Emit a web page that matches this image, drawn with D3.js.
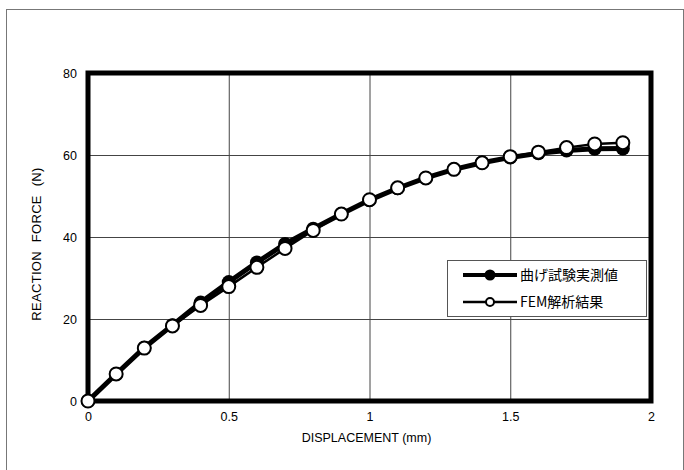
<!DOCTYPE html>
<html>
<head>
<meta charset="utf-8">
<script src="https://cdn.jsdelivr.net/npm/d3@7"></script>
<style>
  body { margin: 0; background: #fff; }
  svg { display: block; font-family: "Liberation Sans", Arial, "Noto Sans CJK JP", sans-serif; }
</style>
</head>
<body>
<svg id="chart" width="684" height="470"></svg>
<script>
// displacement (mm)
const disp = [0, 0.1, 0.2, 0.3, 0.4, 0.5, 0.6, 0.7, 0.8, 0.9, 1.0, 1.1, 1.2, 1.3, 1.4, 1.5, 1.6, 1.7, 1.8, 1.9];
// 曲げ試験実測値
const measured = [0, 6.6, 13.0, 18.5, 24.0, 29.0, 33.8, 38.3, 42.0, 45.6, 49.0, 51.9, 54.4, 56.5, 58.1, 59.4, 60.4, 61.1, 61.5, 61.6];
// FEM解析結果
const fem = [0, 6.6, 12.9, 18.3, 23.3, 27.9, 32.6, 37.2, 41.6, 45.6, 49.1, 52.0, 54.4, 56.5, 58.1, 59.6, 60.7, 61.8, 62.7, 63.0];

const xTicks = [0, 0.5, 1, 1.5, 2];
const yTicks = [0, 20, 40, 60, 80];
const seriesNames = ["曲げ試験実測値", "FEM解析結果"];

const svg = d3.select("#chart");

const margin = {top: 73, right: 33, bottom: 69, left: 88},
    width = 684 - margin.left - margin.right,
    height = 470 - margin.top - margin.bottom;

const x = d3.scaleLinear().domain([0, 2]).range([0, width]);
const y = d3.scaleLinear().domain([0, 80]).range([height, 0]);

// outer frame
svg.append("rect")
    .attr("x", 6.5).attr("y", 9.5)
    .attr("width", 677).attr("height", 470)
    .attr("fill", "none").attr("stroke", "#777").attr("stroke-width", 1);

const g = svg.append("g")
    .attr("transform", "translate(" + margin.left + "," + margin.top + ")");

// grid
g.selectAll(".vgrid")
    .data(xTicks.slice(1, -1))
    .enter().append("line")
    .attr("x1", d => x(d) + 0.5).attr("x2", d => x(d) + 0.5)
    .attr("y1", 0).attr("y2", height)
    .attr("stroke", "#444").attr("stroke-width", 1);
g.selectAll(".hgrid")
    .data(yTicks.slice(1, -1))
    .enter().append("line")
    .attr("x1", 0).attr("x2", width)
    .attr("y1", d => y(d) + 0.5).attr("y2", d => y(d) + 0.5)
    .attr("stroke", "#444").attr("stroke-width", 1);

// axes (labels only)
const xAxis = d3.axisBottom(x).tickValues(xTicks).tickSize(0).tickPadding(11).tickFormat(d3.format("~g"));
const yAxis = d3.axisLeft(y).tickValues(yTicks).tickSize(0).tickPadding(11).tickFormat(d3.format("d"));

g.append("g")
    .attr("transform", "translate(0," + height + ")")
    .call(xAxis)
    .call(a => a.select(".domain").remove())
    .selectAll("text").style("font-size", "12.5px").attr("fill", "#000");

g.append("g")
    .call(yAxis)
    .call(a => a.select(".domain").remove())
    .selectAll("text").style("font-size", "12.5px").attr("fill", "#000");

// plot frame
g.append("rect")
    .attr("x", 0).attr("y", 0)
    .attr("width", width).attr("height", height)
    .attr("fill", "none").attr("stroke", "#000").attr("stroke-width", 5);

// axis titles
svg.append("text")
    .attr("x", margin.left + width / 2 - 3).attr("y", 442)
    .attr("text-anchor", "middle")
    .style("font-size", "12.5px")
    .text("DISPLACEMENT (mm)");

svg.append("text")
    .attr("transform", "translate(41," + (margin.top + height / 2 + 7) + ") rotate(-90)")
    .attr("text-anchor", "middle")
    .style("font-size", "13px")
    .style("word-spacing", "5px")
    .style("letter-spacing", "0.3px")
    .text("REACTION FORCE (N)");

// series
const lineM = d3.line().x((d, i) => x(disp[i])).y(d => y(d));

g.append("path")
    .datum(measured)
    .attr("d", lineM)
    .attr("fill", "none").attr("stroke", "#000").attr("stroke-width", 5);

g.selectAll(".dotM")
    .data(measured)
    .enter().append("circle")
    .attr("cx", (d, i) => x(disp[i]))
    .attr("cy", d => y(d))
    .attr("r", 7)
    .attr("fill", "#000");

g.append("path")
    .datum(fem)
    .attr("d", lineM)
    .attr("fill", "none").attr("stroke", "#000").attr("stroke-width", 2.5);

g.selectAll(".dotF")
    .data(fem)
    .enter().append("circle")
    .attr("cx", (d, i) => x(disp[i]))
    .attr("cy", d => y(d))
    .attr("r", 6.5)
    .attr("fill", "#fff").attr("stroke", "#000").attr("stroke-width", 2);

// legend
const legend = svg.append("g").attr("transform", "translate(447,260)");
legend.append("rect")
    .attr("x", 0.5).attr("y", 0.5)
    .attr("width", 199).attr("height", 56)
    .attr("fill", "#fff").attr("stroke", "#555").attr("stroke-width", 1);

const legendRows = legend.selectAll(".row")
    .data(seriesNames)
    .enter().append("g")
    .attr("transform", (d, i) => "translate(0," + (15 + i * 27) + ")");

legendRows.append("line")
    .attr("x1", 16).attr("x2", 70)
    .attr("y1", 0).attr("y2", 0)
    .attr("stroke", "#000")
    .attr("stroke-width", (d, i) => i === 0 ? 4 : 2.5);

legendRows.append("circle")
    .attr("cx", 43).attr("cy", 0)
    .attr("r", (d, i) => i === 0 ? 4.5 : 4)
    .attr("fill", (d, i) => i === 0 ? "#000" : "#fff")
    .attr("stroke", "#000").attr("stroke-width", 2);

legendRows.append("text")
    .attr("x", 73).attr("y", 0)
    .attr("dy", "0.35em")
    .style("font-size", "14px")
    .style("font-family", "'Noto Sans CJK JP', sans-serif")
    .text(d => d);
</script>
</body>
</html>
